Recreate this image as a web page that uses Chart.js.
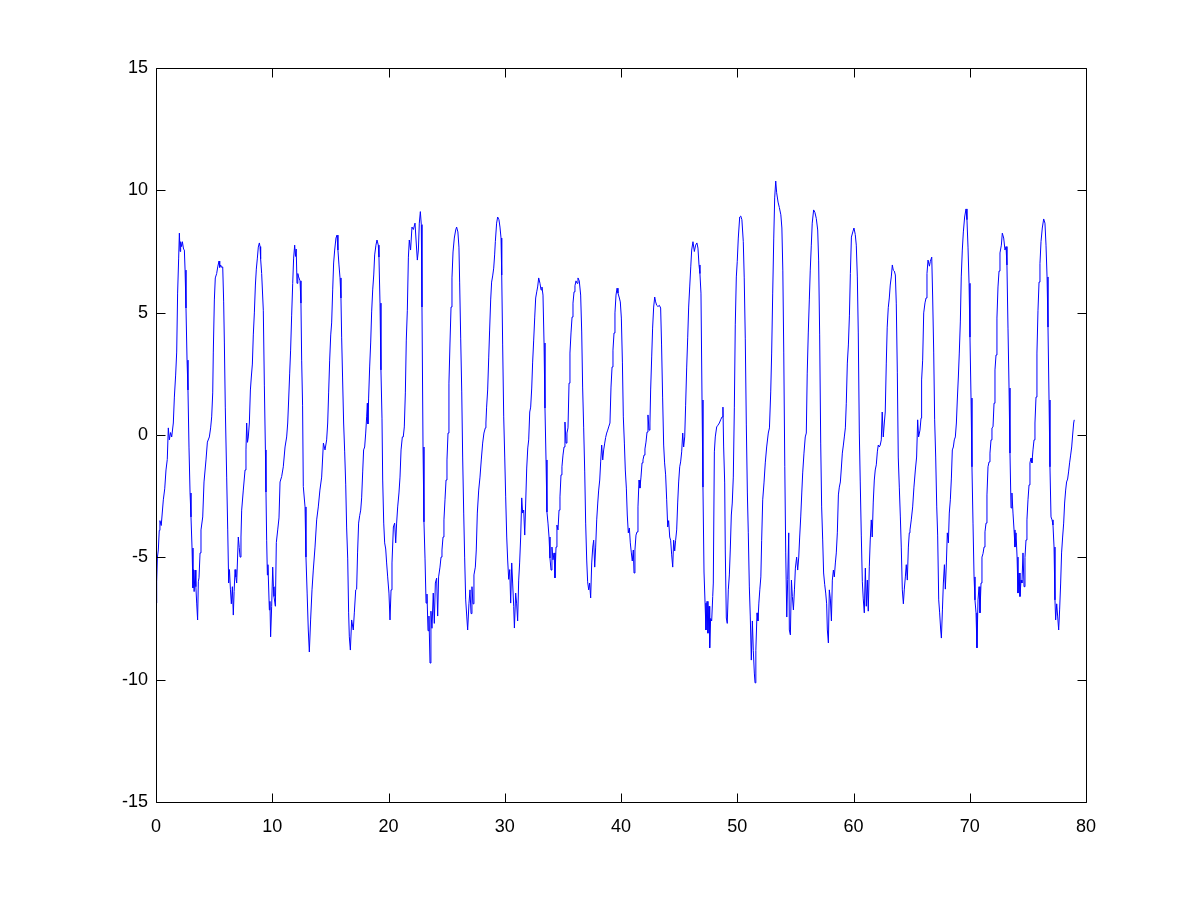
<!DOCTYPE html>
<html>
<head>
<meta charset="utf-8">
<script src="https://cdn.jsdelivr.net/npm/chart.js@4.4.1/dist/chart.umd.min.js"></script>
<style>
  html, body { margin: 0; padding: 0; background: #ffffff; }
  #wrap { width: 1200px; height: 901px; }
</style>
</head>
<body>
<div id="wrap"><canvas id="c" width="1200" height="901"></canvas></div>
<script>
// Tick labels
const xTicks = [0, 10, 20, 30, 40, 50, 60, 70, 80];
const yTicks = [-15, -10, -5, 0, 5, 10, 15];

// Samples: [time, value]
const seg0to10 = [
[0.00,-6.87],[0.06,-6.0],[0.12,-5.0],[0.20,-4.7],[0.28,-3.9],[0.34,-3.5],[0.45,-3.7],[0.63,-2.65],[0.75,-2.2],[0.86,-1.43],
[0.97,-1.0],[1.06,0.29],[1.15,-0.2],[1.25,0.1],[1.35,-0.08],[1.49,0.49],[1.58,1.55],[1.69,2.45],[1.78,3.39],[1.86,5.8],
[1.95,7.23],[2.01,8.25],[2.07,7.5],[2.12,7.9],[2.20,7.7],[2.27,7.9],[2.37,7.6],[2.44,7.56],[2.50,6.74],[2.58,5.19],
[2.67,3.06],[2.75,1.84],[2.84,-0.53],[2.93,-2.37],[3.01,-3.35],[3.10,-4.62],[3.18,-6.25],[3.23,-5.5],[3.28,-6.4],[3.36,-5.52],
[3.43,-6.2],[3.50,-6.87],[3.58,-7.56],[3.64,-6.0],[3.70,-5.84],[3.79,-4.82],[3.87,-3.88],[4.02,-3.35],[4.13,-1.92],[4.30,-1.02],
[4.42,-0.29],[4.59,-0.08],[4.70,0.29],[4.79,0.74],[4.88,1.72],[4.93,3.39],[5.02,5.52],[5.10,6.42],[5.22,6.6],[5.31,6.87],
[5.42,7.11],[5.48,6.85],[5.56,6.95],[5.65,6.85],[5.74,6.87],[5.82,5.44],[5.88,3.8],[5.96,1.14],[6.08,-1.72],[6.17,-3.88],
[6.25,-6.05],[6.32,-5.5],[6.40,-6.3],[6.48,-6.9],[6.57,-6.2],[6.65,-7.36],[6.72,-6.4],[6.80,-5.5],[6.87,-5.8],[6.94,-6.05],
[7.08,-4.17],[7.16,-4.6],[7.23,-4.99],[7.31,-4.17],[7.37,-3.07],[7.51,-2.25],[7.66,-1.43],[7.74,-0.61],[7.80,0.49],[7.87,-0.3],
[7.94,-0.08],[8.03,0.49],[8.12,1.84],[8.20,2.37],[8.29,2.9],[8.37,4.09],[8.46,4.99],[8.55,6.13],[8.63,6.78],[8.72,7.23],
[8.80,7.68],[8.89,7.85],[8.95,7.7],[9.00,7.2],[9.09,6.6],[9.23,5.1],[9.32,2.04],[9.41,-0.61],[9.46,-2.33],[9.52,-4.3],
[9.58,-5.72],[9.63,-5.3],[9.75,-7.15],[9.80,-6.8],[9.86,-8.25],[9.95,-7.0]
];
const seg10to20 = [
[10.04,-5.4],[10.10,-6.2],[10.15,-6.6],[10.27,-7.0],[10.35,-4.4],[10.47,-3.88],[10.58,-3.39],[10.67,-1.92],[10.81,-1.7],[10.95,-1.3],
[11.10,-0.49],[11.24,-0.08],[11.33,0.49],[11.41,1.43],[11.50,2.53],[11.58,3.47],[11.67,4.9],[11.76,6.2],[11.84,7.23],[11.93,7.76],
[12.00,7.3],[12.06,7.6],[12.13,6.2],[12.20,6.6],[12.27,6.46],[12.39,6.3],[12.47,5.39],[12.53,3.06],[12.61,1.22],[12.67,-2.1],
[12.82,-2.94],[12.90,-4.99],[13.00,-6.46],[13.10,-7.97],[13.19,-8.87],[13.30,-7.56],[13.42,-6.33],[13.53,-5.52],[13.68,-4.58],[13.82,-3.47],
[13.96,-2.94],[14.10,-2.25],[14.25,-1.72],[14.40,-0.33],[14.54,-0.61],[14.68,-0.2],[14.77,0.49],[14.85,1.72],[14.94,3.06],[15.03,4.09],
[15.11,4.58],[15.20,5.93],[15.28,7.03],[15.37,7.56],[15.48,8.05],[15.57,8.17],[15.65,7.56],[15.74,6.95],[15.83,6.42],[15.91,5.6],
[15.97,4.0],[16.05,2.33],[16.14,0.49],[16.23,-0.69],[16.32,-2.04],[16.40,-3.8],[16.49,-5.03],[16.57,-7.27],[16.63,-8.25],[16.72,-8.79],
[16.83,-7.56],[16.97,-7.97],[17.06,-7.27],[17.18,-6.33],[17.26,-6.3],[17.34,-4.82],[17.43,-3.6],[17.52,-3.3],[17.61,-3.07],[17.69,-2.57],
[17.78,-1.51],[17.86,-0.61],[17.95,-0.49],[18.04,0.08],[18.12,0.74],[18.18,1.3],[18.23,0.45],[18.29,1.51],[18.38,2.78],[18.47,3.8],
[18.55,5.03],[18.64,5.93],[18.73,6.54],[18.81,7.36],[18.92,7.76],[19.01,7.97],[19.12,7.76],[19.18,7.27],[19.27,5.39],[19.35,2.66],
[19.44,0.69],[19.50,-1.84],[19.59,-3.6],[19.67,-4.41],[19.76,-4.66],[19.84,-5.23],[19.93,-5.8]
];
const seg20to30 = [
[20.04,-6.46],[20.13,-7.56],[20.22,-6.33],[20.30,-5.23],[20.42,-3.76],[20.53,-3.6],[20.62,-4.41],[20.70,-3.6],[20.79,-2.94],[20.90,-2.37],
[20.99,-1.72],[21.08,-0.61],[21.19,-0.08],[21.27,-0.08],[21.36,0.33],[21.45,1.72],[21.53,3.88],[21.62,5.1],[21.71,7.27],[21.79,7.97],
[21.90,7.56],[22.02,8.5],[22.14,8.4],[22.28,8.66],[22.37,7.97],[22.48,7.15],[22.57,7.56],[22.65,8.66],[22.74,9.13],[22.82,8.6],
[22.88,5.23],[22.97,-0.49],[23.05,-3.55],[23.14,-5.03],[23.23,-6.87],[23.31,-6.5],[23.40,-8.0],[23.48,-7.4],[23.57,-9.32],[23.65,-7.2],
[23.74,-7.9],[23.85,-6.46],[23.94,-7.7],[24.03,-6.05],[24.14,-5.85],[24.23,-7.4],[24.31,-5.8],[24.43,-5.4],[24.52,-4.99],[24.60,-4.7],
[24.69,-4.17],[24.77,-3.47],[24.86,-2.65],[24.95,-1.84],[25.03,-1.02],[25.12,0.08],[25.20,2.12],[25.29,3.76],[25.38,5.23],[25.46,6.42],
[25.55,7.48],[25.66,8.05],[25.78,8.38],[25.86,8.5],[25.97,8.3],[26.06,7.68],[26.12,6.25],[26.21,3.96],[26.30,1.76],[26.38,-0.9],
[26.47,-3.19],[26.55,-4.99],[26.64,-6.74],[26.73,-7.4],[26.81,-7.97],[26.92,-6.9],[27.01,-6.33],[27.10,-7.3],[27.18,-6.2],[27.27,-6.9],
[27.35,-5.72],[27.47,-5.4],[27.55,-4.7],[27.64,-3.19],[27.76,-2.25],[27.87,-1.72],[27.98,-1.02],[28.10,-0.33],[28.21,0.08],[28.33,0.29],
[28.38,0.49],[28.44,1.14],[28.53,1.84],[28.62,3.15],[28.70,4.29],[28.79,5.52],[28.87,6.25],[28.96,6.5],[29.05,6.82],[29.13,7.36],
[29.19,7.9],[29.30,8.66],[29.39,8.91],[29.50,8.8],[29.59,8.5],[29.68,8.05],[29.74,6.54],[29.82,3.68],[29.91,0.74]
];
const seg30to40 = [
[30.00,-0.94],[30.08,-2.53],[30.17,-4.17],[30.25,-5.11],[30.34,-5.9],[30.43,-5.5],[30.51,-6.87],[30.60,-5.23],[30.68,-6.05],[30.77,-7.0],
[30.83,-7.89],[30.94,-6.46],[31.02,-6.87],[31.11,-7.6],[31.20,-5.93],[31.28,-5.23],[31.37,-4.17],[31.46,-2.57],[31.54,-3.19],[31.63,-3.07],
[31.72,-4.09],[31.80,-2.78],[31.89,-1.35],[31.98,-0.53],[32.06,-0.2],[32.15,0.94],[32.23,1.14],[32.32,1.92],[32.40,2.98],[32.49,3.88],
[32.58,4.82],[32.66,5.6],[32.75,5.85],[32.83,6.05],[32.92,6.42],[33.03,6.2],[33.12,5.93],[33.20,6.05],[33.29,5.72],[33.38,3.76],
[33.46,1.1],[33.55,-1.02],[33.63,-3.15],[33.72,-3.6],[33.81,-4.17],[33.89,-5.03],[33.98,-5.52],[34.06,-4.58],[34.15,-5.1],[34.24,-4.82],
[34.32,-5.84],[34.41,-4.58],[34.49,-3.68],[34.58,-3.88],[34.67,-3.07],[34.75,-2.53],[34.84,-1.63],[34.92,-1.3],[35.01,-0.82],[35.10,-0.49],
[35.18,0.53],[35.27,-0.33],[35.35,0.08],[35.44,0.29],[35.53,2.12],[35.61,3.35],[35.70,4.17],[35.79,4.82],[35.87,5.39],[35.96,5.85],
[36.04,6.1],[36.13,6.3],[36.22,6.2],[36.30,6.42],[36.41,6.3],[36.53,5.72],[36.62,4.21],[36.70,1.96],[36.79,0.29],[36.88,-1.51],
[36.96,-3.6],[37.05,-5.11],[37.13,-6.0],[37.22,-6.33],[37.30,-6.05],[37.39,-6.66],[37.48,-5.23],[37.57,-4.58],[37.65,-4.3],[37.74,-5.4],
[37.82,-4.58],[37.91,-3.47],[38.00,-2.78],[38.08,-2.25],[38.17,-1.84],[38.25,-1.1],[38.34,-0.41],[38.43,-1.02],[38.51,-0.61],[38.60,-0.33],
[38.68,-0.1],[38.77,0.08],[38.86,0.2],[38.94,0.33],[39.05,0.49],[39.14,1.96],[39.23,2.78],[39.31,3.47],[39.40,4.17],[39.48,4.99],
[39.57,5.72],[39.66,6.0],[39.74,5.8],[39.86,5.6],[39.94,5.44]
];
const seg40to50 = [
[40.03,4.78],[40.12,2.98],[40.20,0.74],[40.29,-0.33],[40.37,-1.43],[40.46,-2.17],[40.54,-3.27],[40.63,-4.0],[40.72,-3.8],[40.80,-4.41],
[40.89,-4.82],[40.97,-5.15],[41.06,-4.7],[41.12,-5.64],[41.20,-4.7],[41.29,-4.09],[41.38,-3.96],[41.46,-2.94],[41.55,-1.84],[41.63,-2.17],
[41.72,-1.72],[41.81,-1.14],[41.89,-1.02],[41.98,-0.82],[42.06,-0.57],[42.15,-0.29],[42.24,0.12],[42.32,0.82],[42.41,0.2],[42.49,0.49],
[42.55,1.84],[42.64,3.19],[42.72,4.37],[42.81,5.23],[42.90,5.64],[42.98,5.44],[43.07,5.3],[43.18,5.25],[43.30,5.3],[43.41,5.19],
[43.49,3.68],[43.58,1.55],[43.67,-0.41],[43.75,-1.14],[43.84,-1.63],[43.93,-2.65],[44.02,-3.76],[44.10,-3.5],[44.19,-4.17],[44.27,-4.3],
[44.36,-4.9],[44.45,-5.4],[44.53,-4.3],[44.62,-4.74],[44.70,-4.3],[44.79,-3.88],[44.88,-2.74],[44.96,-1.92],[45.05,-1.3],[45.13,-1.1],
[45.22,-0.69],[45.31,0.08],[45.39,-0.49],[45.48,-0.08],[45.56,1.22],[45.65,2.74],[45.74,4.0],[45.82,5.23],[45.91,6.05],[46.00,6.87],
[46.08,7.56],[46.19,7.9],[46.31,7.5],[46.42,7.76],[46.53,7.85],[46.62,7.64],[46.71,6.95],[46.79,6.6],[46.88,5.8],[46.97,1.43],
[47.05,-2.13],[47.14,-5.6],[47.23,-6.87],[47.31,-7.97],[47.40,-6.8],[47.48,-8.1],[47.57,-7.0],[47.63,-8.7],[47.71,-7.5],[47.80,-7.6],
[47.89,-6.6],[47.94,-6.05],[48.03,-0.69],[48.11,-0.08],[48.23,0.33],[48.34,0.4],[48.46,0.49],[48.57,0.62],[48.69,0.74],[48.77,1.14],
[48.83,-0.49],[48.92,-1.96],[48.97,-4.7],[49.06,-7.48],[49.14,-7.7],[49.23,-6.33],[49.32,-5.72],[49.40,-4.7],[49.49,-3.27],[49.57,-2.78],
[49.66,-1.72],[49.75,1.14],[49.83,4.5],[49.92,6.46]
];
const seg50to60 = [
[50.00,7.1],[50.09,8.05],[50.21,8.91],[50.30,8.95],[50.40,8.8],[50.52,7.9],[50.60,6.42],[50.69,3.96],[50.78,0.41],[50.87,-2.37],
[50.95,-4.0],[51.04,-6.21],[51.12,-7.4],[51.21,-9.2],[51.30,-7.6],[51.38,-8.8],[51.47,-9.73],[51.53,-10.13],[51.60,-8.8],[51.70,-7.27],
[51.78,-7.6],[51.86,-6.87],[51.94,-6.33],[52.03,-5.8],[52.10,-4.3],[52.19,-2.65],[52.30,-1.96],[52.41,-1.14],[52.53,-0.49],[52.67,0.08],
[52.77,0.29],[52.88,1.76],[52.96,3.35],[53.05,5.8],[53.14,8.05],[53.22,9.69],[53.31,10.38],[53.39,9.9],[53.51,9.52],[53.62,9.3],
[53.75,9.0],[53.84,8.46],[53.92,6.74],[54.00,3.39],[54.09,-1.3],[54.17,-4.82],[54.26,-7.44],[54.34,-5.9],[54.43,-4.0],[54.48,-7.97],
[54.57,-8.17],[54.66,-5.93],[54.74,-6.6],[54.83,-7.15],[54.92,-6.33],[55.00,-5.44],[55.11,-4.99],[55.20,-5.52],[55.29,-4.99],[55.37,-4.17],
[55.46,-3.35],[55.55,-2.37],[55.63,-1.55],[55.74,-0.74],[55.85,-0.08],[55.94,0.08],[56.02,2.53],[56.11,4.17],[56.20,5.52],[56.28,6.74],
[56.37,7.76],[56.45,8.66],[56.57,9.2],[56.68,9.1],[56.80,8.85],[56.92,8.38],[57.00,7.15],[57.09,4.09],[57.18,-0.33],[57.26,-2.94],
[57.35,-4.29],[57.43,-5.64],[57.52,-6.1],[57.61,-6.46],[57.69,-6.9],[57.75,-7.97],[57.84,-8.5],[57.92,-6.33],[58.01,-6.7],[58.10,-7.6],
[58.18,-5.93],[58.27,-5.52],[58.35,-5.8],[58.44,-5.23],[58.52,-4.82],[58.61,-4.0],[58.70,-2.45],[58.78,-2.13],[58.87,-1.92],[58.95,-1.39],
[59.04,-0.74],[59.13,-0.41],[59.21,-0.08],[59.30,0.29],[59.38,1.3],[59.47,2.94],[59.56,3.68],[59.65,4.9],[59.73,6.6],[59.82,8.09],
[59.94,8.3]
];
const seg60to70 = [
[60.04,8.46],[60.15,8.2],[60.24,7.76],[60.33,6.46],[60.41,4.17],[60.50,0.08],[60.58,-1.92],[60.67,-4.09],[60.76,-6.0],[60.84,-6.7],
[60.93,-7.27],[61.02,-5.44],[61.10,-7.0],[61.19,-5.93],[61.27,-7.2],[61.36,-5.39],[61.44,-4.29],[61.53,-3.47],[61.61,-4.17],[61.70,-2.74],
[61.79,-1.84],[61.87,-1.43],[61.96,-1.22],[62.05,-0.69],[62.13,-0.41],[62.22,-0.49],[62.30,-0.41],[62.39,-0.2],[62.47,0.94],[62.56,-0.08],
[62.65,0.49],[62.73,0.94],[62.82,2.94],[62.90,4.41],[62.99,5.2],[63.08,5.6],[63.16,6.13],[63.25,6.46],[63.34,6.95],[63.42,6.74],
[63.51,6.7],[63.60,6.54],[63.68,5.39],[63.77,2.57],[63.85,-0.9],[63.94,-2.13],[64.03,-3.35],[64.11,-4.58],[64.20,-6.33],[64.29,-6.9],
[64.37,-6.3],[64.46,-5.8],[64.54,-5.3],[64.63,-5.93],[64.72,-4.58],[64.80,-4.0],[64.86,-3.88],[64.97,-3.47],[65.09,-2.94],[65.20,-2.13],
[65.32,-1.43],[65.43,-0.9],[65.52,0.62],[65.60,-0.08],[65.72,0.2],[65.81,0.69],[65.86,2.25],[65.95,3.06],[66.04,4.99],[66.15,5.4],
[66.24,5.6],[66.32,6.6],[66.41,7.15],[66.53,6.9],[66.61,7.1],[66.73,7.27],[66.81,5.64],[66.90,3.39],[66.98,0.62],[67.07,-0.9],
[67.16,-2.94],[67.24,-4.09],[67.33,-6.74],[67.41,-7.27],[67.50,-7.97],[67.56,-8.3],[67.65,-7.15],[67.73,-6.05],[67.82,-5.3],[67.90,-6.3],
[67.99,-5.23],[68.07,-4.0],[68.16,-4.41],[68.24,-3.19],[68.33,-2.65],[68.42,-1.76],[68.50,-0.61],[68.59,-0.49],[68.67,-0.2],[68.76,-0.08],
[68.85,0.49],[68.93,1.43],[69.02,2.37],[69.10,3.35],[69.19,4.62],[69.27,6.46],[69.36,7.56],[69.45,8.3],[69.56,8.91],[69.68,9.24],
[69.76,8.8],[69.85,7.68],[69.94,6.2]
];
const seg70to79 = [
[70.02,4.0],[70.11,1.51],[70.19,-1.3],[70.28,-3.6],[70.37,-5.8],[70.45,-6.74],[70.54,-7.27],[70.62,-8.7],[70.71,-6.74],[70.80,-6.2],
[70.88,-7.27],[70.97,-6.05],[71.05,-4.99],[71.14,-4.85],[71.23,-4.58],[71.31,-3.96],[71.40,-3.6],[71.48,-2.45],[71.57,-1.3],[71.66,-1.1],
[71.74,-0.74],[71.83,-0.2],[71.91,0.29],[72.00,0.33],[72.09,1.3],[72.17,2.66],[72.26,3.27],[72.34,4.78],[72.43,6.05],[72.52,6.7],
[72.60,7.44],[72.72,7.76],[72.80,8.25],[72.92,8.05],[73.03,7.56],[73.12,7.7],[73.20,6.95],[73.29,4.37],[73.38,1.92],[73.46,-0.74],
[73.55,-2.98],[73.63,-2.37],[73.72,-3.19],[73.81,-3.88],[73.89,-4.58],[73.98,-4.0],[74.07,-4.99],[74.15,-6.46],[74.24,-5.64],[74.32,-6.6],
[74.41,-5.93],[74.49,-6.05],[74.58,-4.82],[74.67,-6.2],[74.75,-5.0],[74.84,-4.29],[74.92,-3.47],[75.01,-2.65],[75.10,-2.04],[75.18,-1.14],
[75.27,-0.94],[75.35,-1.14],[75.44,-0.61],[75.53,-0.2],[75.61,0.49],[75.70,1.55],[75.78,3.35],[75.87,5.1],[75.96,6.25],[76.04,7.0],
[76.13,7.9],[76.24,8.46],[76.36,8.83],[76.47,8.66],[76.56,7.76],[76.65,6.46],[76.73,4.41],[76.82,1.43],[76.90,-1.3],[76.99,-3.35],
[77.08,-3.47],[77.16,-3.68],[77.25,-4.58],[77.33,-6.74],[77.39,-7.56],[77.48,-6.9],[77.56,-7.4],[77.65,-7.97],[77.73,-7.15],[77.82,-6.05],
[77.90,-4.82],[77.99,-4.17],[78.08,-3.6],[78.16,-2.78],[78.25,-2.25],[78.33,-1.92],[78.42,-1.8],[78.50,-1.51],[78.59,-1.14],[78.68,-0.82],
[78.77,-0.49],[78.85,0.0],[78.94,0.49],[78.99,0.62]
];

const samples = [].concat(seg0to10, seg10to20, seg20to30, seg30to40, seg40to50, seg50to60, seg60to70, seg70to79)
  .map(p => ({ x: p[0], y: p[1] }));

const TICK_LEN = 9;
const boxAndTicks = {
  id: 'boxAndTicks',
  afterDatasetsDraw(chart) {
    const { ctx, chartArea: a, scales } = chart;
    const L = Math.round(a.left) + 0.5, R = Math.round(a.right) + 0.5;
    const T = Math.round(a.top) + 0.5, B = Math.round(a.bottom) + 0.5;
    ctx.save();
    ctx.strokeStyle = '#000000';
    ctx.lineWidth = 1;
    ctx.beginPath();
    ctx.rect(L, T, R - L, B - T);
    xTicks.forEach(v => {
      const px = Math.round(scales.x.getPixelForValue(v)) + 0.5;
      ctx.moveTo(px, B); ctx.lineTo(px, B - TICK_LEN);
      ctx.moveTo(px, T); ctx.lineTo(px, T + TICK_LEN);
    });
    yTicks.forEach(v => {
      const py = Math.round(scales.y.getPixelForValue(v)) + 0.5;
      ctx.moveTo(L, py); ctx.lineTo(L + TICK_LEN, py);
      ctx.moveTo(R, py); ctx.lineTo(R - TICK_LEN, py);
    });
    ctx.stroke();
    ctx.restore();
  }
};

const tickFont = { family: '"Liberation Sans", Arial, Helvetica, sans-serif', size: 18 };

new Chart(document.getElementById('c'), {
  type: 'line',
  data: {
    datasets: [{
      data: samples,
      borderColor: '#0000ff',
      borderWidth: 1,
      pointRadius: 0,
      tension: 0,
      fill: false
    }]
  },
  options: {
    responsive: false,
    devicePixelRatio: 1,
    animation: false,
    events: [],
    layout: { padding: { left: 0, top: 68, right: 114, bottom: 0 } },
    plugins: { legend: { display: false }, tooltip: { enabled: false } },
    scales: {
      x: {
        type: 'linear',
        min: 0, max: 80,
        afterBuildTicks: s => { s.ticks = xTicks.map(v => ({ value: v })); },
        afterFit: s => { s.height = 99; },
        grid: { display: false, drawTicks: false },
        border: { display: false },
        ticks: { color: '#000000', font: tickFont, padding: 14, maxRotation: 0, autoSkip: false }
      },
      y: {
        type: 'linear',
        min: -15, max: 15,
        afterBuildTicks: s => { s.ticks = yTicks.map(v => ({ value: v })); },
        afterFit: s => { s.width = 156; },
        grid: { display: false, drawTicks: false },
        border: { display: false },
        ticks: { color: '#000000', font: tickFont, padding: 8, autoSkip: false }
      }
    }
  },
  plugins: [boxAndTicks]
});
</script>
</body>
</html>
